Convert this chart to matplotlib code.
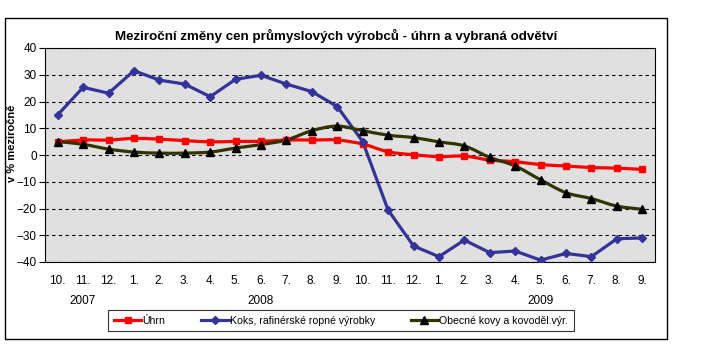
import matplotlib
matplotlib.use("Agg")
import matplotlib.pyplot as plt
import numpy as np
from matplotlib.path import Path
from matplotlib.patches import PathPatch, Rectangle
from matplotlib.lines import Line2D

plt.rcParams['font.family'] = ['Liberation Sans', 'DejaVu Sans']

months = ["10.", "11.", "12.", "1.", "2.", "3.", "4.", "5.", "6.", "7.", "8.", "9.",
          "10.", "11.", "12.", "1.", "2.", "3.", "4.", "5.", "6.", "7.", "8.", "9."]
years = ["2007", "2008", "2009"]
year_pos = [1, 8, 19]

uhrn = [4.9, 5.6, 5.6, 6.2, 5.9, 5.4, 4.9, 5.1, 5.1, 5.6, 5.6, 5.6,
        4.1, 1.2, 0.1, -0.6, -0.4, -1.9, -2.5, -3.6, -4.1, -4.7, -4.9, -5.4]
koks = [15.0, 25.3, 23.1, 31.5, 28.0, 26.5, 21.8, 28.3, 29.8, 26.5, 23.7, 18.1,
        5.0, -20.6, -34.0, -38.0, -31.8, -36.5, -35.9, -39.3, -36.8, -38.0, -31.3, -31.0]
kovy = [5.0, 4.0, 2.2, 1.1, 0.7, 0.7, 1.1, 2.6, 3.9, 5.6, 9.1, 10.8,
        9.1, 7.4, 6.5, 4.9, 3.4, -0.9, -4.1, -9.3, -14.1, -16.3, -19.1, -20.3]

labels = ["Úhrn", "Koks, rafinérské ropné výrobky", "Obecné kovy a kovoděl.výr."]
colors = ["#FF0000", "#333399", "#333300"]
markers = ["s", "D", "^"]
mcolors = ["#FF0000", "#333399", "#000000"]
msizes = [5, 4, 6]
smooth = [True, False, True]


def smooth_path(x, y):
    pts = np.column_stack([x, y]).astype(float)
    n = len(pts)
    verts = [pts[0]]
    codes = [Path.MOVETO]
    for i in range(n - 1):
        p0 = pts[i - 1] if i > 0 else pts[i]
        p1 = pts[i]
        p2 = pts[i + 1]
        p3 = pts[i + 2] if i + 2 < n else pts[i + 1]
        c1 = p1 + (p2 - p0) / 6.0
        c2 = p2 - (p3 - p1) / 6.0
        verts += [c1, c2, p2]
        codes += [Path.CURVE4] * 3
    return Path(verts, codes)


W, H = 725, 363
fig = plt.figure(figsize=(W / 100, H / 100), dpi=100)
fig.patch.set_facecolor("white")

# outer frame
fig.patches.append(Rectangle((5 / W, 24 / H), 662 / W, 321 / H, transform=fig.transFigure,
                             fill=False, edgecolor="black", linewidth=1.0))

ax = fig.add_axes([45 / W, 101 / H, 610 / W, 214 / H])
ax.set_facecolor("#E0E0E0")
x = np.arange(len(months))

series = [uhrn, koks, kovy]
for vals, c, sm in zip(series, colors, smooth):
    if sm:
        ax.add_patch(PathPatch(smooth_path(x, vals), fill=False, edgecolor=c, linewidth=2.3,
                               zorder=3, capstyle="round", joinstyle="round"))
    else:
        ax.plot(x, vals, color=c, linewidth=2.3, zorder=3, solid_joinstyle="round")
for vals, m, mc, ms in zip(series, markers, mcolors, msizes):
    ax.plot(x, vals, linestyle="none", marker=m, color=mc, markersize=ms, zorder=4)

ax.set_xlim(-0.5, len(months) - 0.5)
ax.set_ylim(-40, 40)
ax.set_yticks(range(-40, 41, 10))
ax.yaxis.grid(True, color="black", linestyle=(0, (3, 3)), linewidth=0.8)
ax.set_axisbelow(True)
ax.set_xticks(x)
ax.set_xticklabels(months, fontsize=8.5)
ax.tick_params(axis="x", length=0, pad=9)
ax.tick_params(axis="y", length=4, width=0.8, labelsize=8.5, direction="out", pad=2)
for s in ax.spines.values():
    s.set_color("black")
    s.set_linewidth(0.8)

for yr, p in zip(years, year_pos):
    ax.text(p, -0.18, yr, transform=ax.get_xaxis_transform(), ha="center", va="center",
            fontsize=8.5)

fig.text(12 / W, 1 - 143 / H, "v % meziročně", rotation=90, ha="center", va="center",
         fontsize=8, fontweight="bold")
fig.text(336 / W, 1 - 36 / H, "Meziroční změny cen průmyslových výrobců - úhrn a vybraná odvětví",
         ha="center", va="center", fontsize=9.6, fontweight="bold")

handles = [Line2D([0], [0], color=c, linewidth=2.3, marker=m, markerfacecolor=mc,
                  markeredgecolor=mc, markersize=ms)
           for c, m, mc, ms in zip(colors, markers, mcolors, msizes)]
leg = fig.legend(handles, labels, loc="center", bbox_to_anchor=(341 / W, 1 - 320.5 / H),
                 ncol=3, fontsize=7.6, frameon=True, fancybox=False, edgecolor="black",
                 handlelength=2.6, handletextpad=0.1, columnspacing=3.4, borderpad=0.55)
leg.get_frame().set_linewidth(0.8)

fig.savefig("out.png", dpi=100)
